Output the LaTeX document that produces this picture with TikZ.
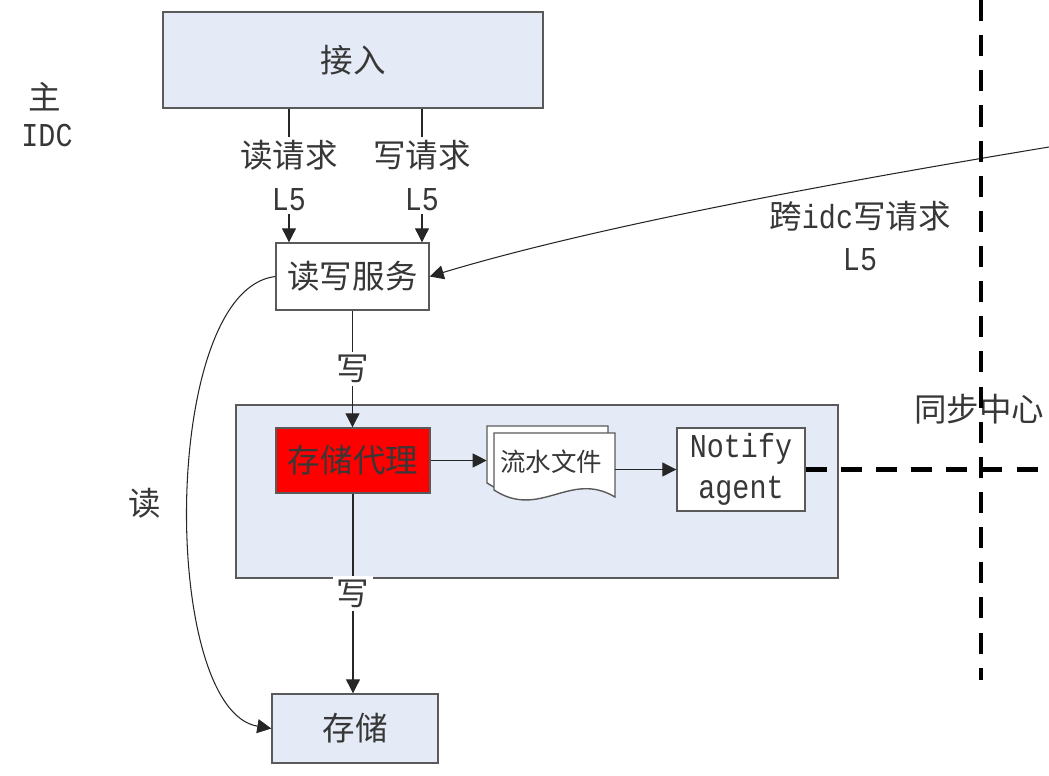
\documentclass[tikz,border=0pt]{standalone}
\usepackage{fontspec}
\setmainfont{Noto Sans CJK SC}
\setmonofont[FakeStretch=0.85]{Liberation Mono}
\usetikzlibrary{arrows.meta,calc}
\definecolor{boxblue}{RGB}{228,234,246}
\definecolor{boxline}{RGB}{90,90,90}
\definecolor{txt}{RGB}{55,55,55}
\newcommand{\lat}[1]{{\ttfamily\fontsize{19}{24}\selectfont #1}}

\begin{document}
\begin{tikzpicture}[x=0.02cm,y=-0.02cm,
    >={Triangle[length=8pt,width=8pt]},
    every node/.style={text=txt,font=\fontsize{18.5}{24}\selectfont},
    box/.style={draw=boxline,line width=0.8pt,fill=boxblue,inner sep=0pt},
    wbox/.style={draw=boxline,line width=0.8pt,fill=white,inner sep=0pt},
    lbl/.style={fill=white,inner sep=2pt,align=center},
    conn/.style={draw=black!85,line width=0.6pt},
    sync/.style={line width=2.8pt,dash pattern=on 12pt off 8pt}]
    \useasboundingbox (0,0) rectangle (1049,775);

    \node[box,minimum width=7.6cm,minimum height=1.92cm] (access) at (353,60) {接入};
    \node[wbox,minimum width=3.06cm,minimum height=1.34cm] (rw) at (352.5,276.5) {读写服务};
    \node[box,minimum width=12.04cm,minimum height=3.46cm] (group) at (537,491.5) {};
    \node[draw=boxline,fill=red,line width=0.8pt,inner sep=0pt,minimum width=3.08cm,minimum height=1.3cm] (proxy) at (353,460.5) {存储代理};
    % stacked pages of the log file
    \foreach \d in {7,0}
        \filldraw[draw=boxline,fill=white,line width=0.8pt] (494-\d,433-\d) -- (615-\d,433-\d) -- (615-\d,497-\d)
            .. controls (570-\d,470-\d) and (540-\d,520-\d) .. (494-\d,490-\d) -- cycle;
    \node[inner sep=0pt,minimum width=2.56cm,font=\fontsize{14.5}{16}\selectfont] (log) at (551,462) {流水文件};
    \node[wbox,minimum width=2.56cm,minimum height=1.66cm,align=center,font=\ttfamily\fontsize{19}{23}\selectfont] (notify) at (741,469.5) {Notify\\agent};
    \node[box,minimum width=3.32cm,minimum height=1.38cm] (store) at (355,728.5) {存储};

    \node (main) at (45,97) {主};
    \node (idc) at (47,135) {\lat{IDC}};
    \node (read) at (145,503) {读};
    \node[align=center] (cross) at (860,236) {跨\lat{idc}写请求\\\lat{L5}};
    \node (synclbl) at (979,409) {同步中心};

    \coordinate (rq) at ($(access.south)+(-64,0)$);
    \coordinate (wq) at ($(access.south)+(69,0)$);
    \coordinate (far) at (1049,147);
    \coordinate (vtop) at (981,0);
    \coordinate (vbot) at (981,680);
    \coordinate (hend) at (1049,468);

    \draw[conn,->] (rq) -- (rq |- rw.north) node[lbl,midway] {读请求\\\lat{L5}};
    \draw[conn,->] (wq) -- (wq |- rw.north) node[lbl,midway] {写请求\\\lat{L5}};
    \draw[conn,->] (rw.south) -- (rw.south |- proxy.north) node[lbl,midway] {写};
    \draw[conn,->] (proxy.east) -- (proxy.east -| log.west);
    \draw[conn,->] (notify.west -| log.east) -- (notify.west);
    \draw[conn,->] (proxy.south) -- (proxy.south |- store.north) node[lbl,midway] {写};
    \draw[conn,->] (far) .. controls (850,180) and (600,225) .. (rw.east);
    \draw[conn,->] (rw.west) .. controls (160,290) and (160,710) .. (store.west);

    \draw[sync] (vtop) -- (vbot);
    \draw[sync] (notify.east) -- (notify.east -| hend);
\end{tikzpicture}
\end{document}
